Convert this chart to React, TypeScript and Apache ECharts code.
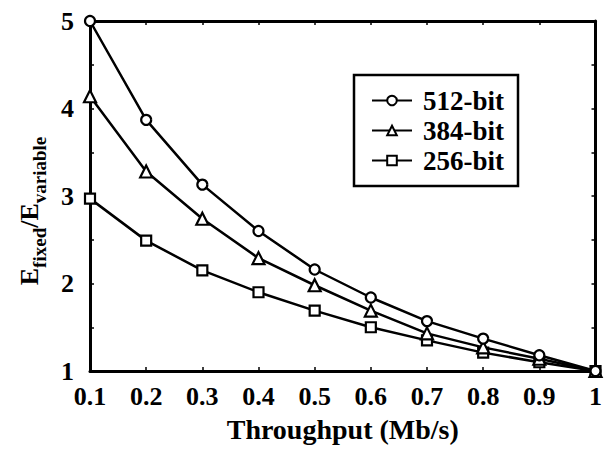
import React, { useEffect, useRef } from "react";
import * as echarts from "echarts";

const throughput = [0.1, 0.2, 0.3, 0.4, 0.5, 0.6, 0.7, 0.8, 0.9, 1.0];
const bit512 = [5.0, 3.87, 3.13, 2.6, 2.16, 1.84, 1.57, 1.37, 1.18, 1.0];
const bit384 = [4.14, 3.28, 2.74, 2.29, 1.98, 1.69, 1.43, 1.27, 1.14, 1.0];
const bit256 = [2.97, 2.49, 2.15, 1.9, 1.69, 1.5, 1.35, 1.21, 1.1, 1.0];
const seriesNames = ["512-bit", "384-bit", "256-bit"];
const seriesSymbols = ["circle", "triangle", "rect"];

const FONT = "'Liberation Serif', 'Times New Roman', serif";

export default function App() {
  const ref = useRef<HTMLDivElement>(null);
  useEffect(() => {
    if (!ref.current) return;
    const chart = echarts.init(ref.current, undefined, { renderer: "svg" });
    const data = [bit512, bit384, bit256];
    const axisLine = { show: true, lineStyle: { color: "#000", width: 3 } };
    const tick = { show: true, inside: true, length: 4, lineStyle: { color: "#000", width: 1.5 } };
    const labelStyle = { color: "#000", fontFamily: FONT, fontWeight: "bold" as const, fontSize: 26 };
    chart.setOption({
      animation: false,
      backgroundColor: "#fff",
      grid: { left: 76, right: 8, top: 9, bottom: 66, containLabel: false },
      legend: {
        orient: "vertical",
        left: 346,
        top: 67,
        padding: [12, 14, 12, 17],
        itemWidth: 40,
        itemHeight: 12,
        itemGap: 3,
        borderColor: "#000",
        borderWidth: 2.5,
        backgroundColor: "#fff",
        data: seriesNames,
        textStyle: { ...labelStyle, fontSize: 27, padding: [0, 0, 0, 6] },
      },
      xAxis: [
        {
          type: "value",
          min: 0.1,
          max: 1,
          interval: 0.1,
          position: "bottom",
          name: "Throughput (Mb/s)",
          nameLocation: "middle",
          nameGap: 44,
          nameTextStyle: { ...labelStyle, fontSize: 28 },
          axisLine,
          axisTick: tick,
          axisLabel: {
            ...labelStyle,
            margin: 12,
            formatter: (v: number) => (Math.abs(v - 1) < 1e-9 ? "1" : v.toFixed(1)),
          },
          splitLine: { show: false },
        },
        {
          type: "value",
          min: 0.1,
          max: 1,
          interval: 0.1,
          position: "top",
          axisLine,
          axisTick: tick,
          axisLabel: { show: false },
          splitLine: { show: false },
        },
      ],
      yAxis: [
        {
          type: "value",
          min: 1,
          max: 5,
          interval: 1,
          position: "left",
          name: "{a|E}{b|fixed}{a|/E}{b|variable}",
          nameLocation: "middle",
          nameGap: 48,
          nameRotate: 90,
          nameTextStyle: {
            padding: [0, 30, 0, 0],
            rich: {
              a: { fontFamily: FONT, fontWeight: "bold", fontSize: 26, color: "#000", verticalAlign: "bottom" },
              b: { fontFamily: FONT, fontWeight: "bold", fontSize: 19, color: "#000", verticalAlign: "bottom", padding: [0, 0, -7, 0] },
            },
          },
          axisLine,
          axisTick: tick,
          minorTick: { show: true, splitNumber: 2, length: 4, lineStyle: { color: "#000", width: 1.5 } },
          axisLabel: { ...labelStyle, margin: 16 },
          splitLine: { show: false },
        },
        {
          type: "value",
          min: 1,
          max: 5,
          interval: 1,
          position: "right",
          axisLine,
          axisTick: tick,
          minorTick: { show: true, splitNumber: 2, length: 4, lineStyle: { color: "#000", width: 1.5 } },
          axisLabel: { show: false },
          splitLine: { show: false },
        },
      ],
      series: seriesNames.map((name, i) => ({
        name,
        type: "line",
        xAxisIndex: 0,
        yAxisIndex: 0,
        data: throughput.map((x, j) => [x, data[i][j]]),
        symbol: seriesSymbols[i],
        symbolSize: i === 1 ? 12 : 10,
        showSymbol: true,
        lineStyle: { color: "#000", width: 2.5 },
        itemStyle: { color: "#fff", borderColor: "#000", borderWidth: 2.2 },
        emphasis: { disabled: true },
        z: 3 - i,
      })),
    });
    return () => chart.dispose();
  }, []);
  return <div ref={ref} style={{ width: 597, height: 440 }} />;
}
